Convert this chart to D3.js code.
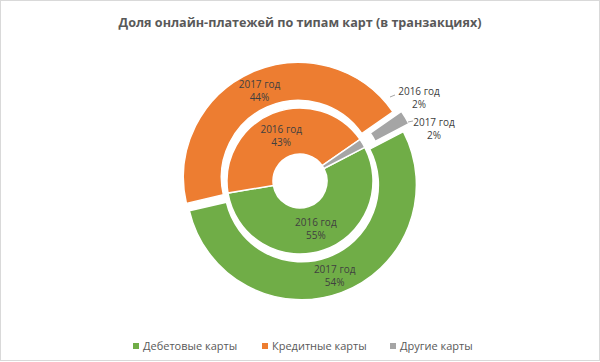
<!DOCTYPE html>
<html>
<head>
<meta charset="utf-8">
<script src="https://cdn.jsdelivr.net/npm/d3@7"></script>
<style>
  body { margin:0; background:#fff; }
  svg { display:block; font-family:"Open Sans", "Noto Sans", sans-serif; }
</style>
</head>
<body>
<svg class="chart"></svg>
<script>
// datos
var categorias = ['Дебетовые карты', 'Кредитные карты', 'Другие карты'];
var colores = ['#70ad47', '#ed7d31', '#a5a5a5'];
var anios = ['2016 год', '2017 год'];
var valores2016 = [55, 43, 2];
var valores2017 = [54, 44, 2];
var titulo = 'Доля онлайн-платежей по типам карт (в транзакциях)';

var W = 600, H = 362;
var cx = 300, cy = 181;
var inicio = 62.5 * Math.PI / 180;

var svg = d3.select('.chart').attr('width', W).attr('height', H);

svg.append('rect')
  .attr('x', 0.5).attr('y', 0.5)
  .attr('width', W - 1).attr('height', H - 2)
  .attr('fill', '#fff').attr('stroke', '#d9d9d9');

svg.append('text')
  .attr('x', cx).attr('y', 27)
  .attr('text-anchor', 'middle')
  .attr('font-size', '12.6px').attr('font-weight', 'bold')
  .attr('fill', '#595959')
  .text(titulo);

var pie = d3.pie().sort(null).value(d => d)
  .startAngle(inicio).endAngle(inicio + 2 * Math.PI);

var g = svg.append('g').attr('transform', 'translate(' + cx + ',' + cy + ')');

/* anillo interior = 2016, anillo exterior = 2017 (explotado) */
var anillos = [
  { anio: anios[0], vals: valores2016, r0: 27, r1: 73, exp: [0, 0, 0] },
  { anio: anios[1], vals: valores2017, r0: 77, r1: 115, exp: [4, 4, 8] }
];

anillos.forEach(function(a) {
  var arco = d3.arc().innerRadius(a.r0).outerRadius(a.r1);
  var arcs = pie(a.vals);
  a.arcs = arcs;
  g.append('g').selectAll('path')
    .data(arcs)
    .enter().append('path')
      .attr('d', arco)
      .attr('fill', (d, i) => colores[i])
      .attr('stroke', '#fff').attr('stroke-width', 1.5)
      .attr('transform', (d, i) => {
        var m = (d.startAngle + d.endAngle) / 2;
        return 'translate(' + (a.exp[i] * Math.sin(m)) + ',' + (-a.exp[i] * Math.cos(m)) + ')';
      });
});

// etiquetas dentro de los anillos (debito y credito)
anillos.forEach(function(a) {
  a.arcs.forEach(function(d, i) {
    if (i === 2) return;
    var m = (d.startAngle + d.endAngle) / 2;
    var r = (a.r0 + a.r1) / 2 + a.exp[i];
    var x = r * Math.sin(m), y = -r * Math.cos(m);
    var t = g.append('text')
      .attr('text-anchor', 'middle')
      .attr('font-size', '10px').attr('fill', '#404040');
    t.append('tspan').attr('x', x).attr('y', y - 2).text(a.anio);
    t.append('tspan').attr('x', x).attr('y', y + 11).text(a.vals[i] + '%');
  });
});

// etiquetas de "otras" fuera, con lineas guia
var guias = [
  { anillo: 0, lx: 119, ly: -84, p1: [90, -84], p2: [95, -86] },
  { anillo: 1, lx: 134, ly: -53, p1: [108, -59], p2: [113, -60] }
];
guias.forEach(function(e) {
  var a = anillos[e.anillo];
  g.append('polyline')
    .attr('points', [e.p1, e.p2].map(p => p.join(',')).join(' '))
    .attr('fill', 'none').attr('stroke', '#a6a6a6').attr('stroke-width', 1);
  var t = g.append('text')
    .attr('text-anchor', 'middle')
    .attr('font-size', '10px').attr('fill', '#404040');
  t.append('tspan').attr('x', e.lx).attr('y', e.ly - 2).text(a.anio);
  t.append('tspan').attr('x', e.lx).attr('y', e.ly + 11).text(a.vals[2] + '%');
});

// leyenda
var leyX = [133, 262, 390];
var ley = svg.append('g').selectAll('g')
  .data(categorias)
  .enter().append('g')
    .attr('transform', (d, i) => 'translate(' + leyX[i] + ',346)');
ley.append('rect')
  .attr('x', 0).attr('y', -3).attr('width', 6).attr('height', 6)
  .attr('fill', (d, i) => colores[i]);
ley.append('text')
  .attr('x', 10).attr('y', 4)
  .attr('font-size', '11px').attr('fill', '#595959')
  .text(d => d);
</script>
</body>
</html>
